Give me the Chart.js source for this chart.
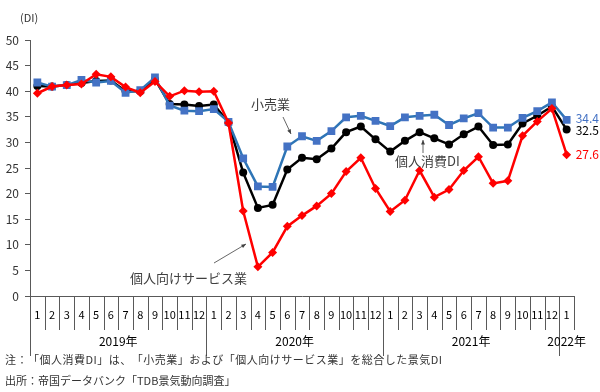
<!DOCTYPE html>
<html>
<head>
<meta charset="utf-8">
<script src="https://cdn.jsdelivr.net/npm/chart.js@4"></script>
<style>
  html, body { margin: 0; padding: 0; background: #fff; }
  #wrap { width: 600px; height: 392px; position: relative; }
  .note {
    position: absolute; left: 5px; margin: 0;
    font-family: "Noto Sans CJK JP", "Noto Sans", sans-serif;
    font-size: 11px; line-height: 14px; color: #333; white-space: nowrap;
    text-spacing-trim: space-all; font-kerning: none;
    font-feature-settings: "chws" 0, "halt" 0;
  }
</style>
</head>
<body>
<div id="wrap">
  <canvas id="diChart" width="600" height="392"></canvas>
  <p class="note" style="top:352px; letter-spacing:0.5px">注：「個人消費DI」は、「小売業」および「個人向けサービス業」を総合した景気DI</p>
  <p class="note" style="top:373px">出所：帝国データバンク「TDB景気動向調査」</p>
</div>
<script>
// Months Jan 2019 .. Jan 2022
const months = [1,2,3,4,5,6,7,8,9,10,11,12, 1,2,3,4,5,6,7,8,9,10,11,12, 1,2,3,4,5,6,7,8,9,10,11,12, 1];
const yearLabels = ["2019年", "2020年", "2021年", "2022年"];
const yearStarts = [0, 12, 24, 36];

// 小売業
const retail = [41.7, 40.9, 41.2, 42.2, 41.7, 42.0, 39.7, 40.2, 42.7, 37.2, 36.2, 36.1,
                36.5, 34.0, 26.9, 21.4, 21.3, 29.2, 31.2, 30.3, 32.2, 34.9, 35.2, 34.2,
                33.2, 34.9, 35.2, 35.4, 33.4, 34.7, 35.7, 32.9, 32.9, 34.8, 36.1, 37.8,
                34.4];
// 個人消費DI
const consumption = [41.0, 40.9, 41.2, 41.6, 42.0, 42.1, 40.0, 40.0, 42.3, 37.5, 37.4, 37.1,
                     37.4, 33.9, 24.1, 17.2, 17.8, 24.7, 27.0, 26.7, 28.8, 32.0, 33.1, 30.6,
                     28.2, 30.3, 32.0, 30.8, 29.6, 31.6, 33.1, 29.5, 29.6, 33.7, 35.2, 37.0,
                     32.5];
// 個人向けサービス業
const service = [39.6, 40.9, 41.2, 41.4, 43.3, 42.8, 40.8, 39.7, 41.9, 39.0, 40.1, 39.9,
                 40.0, 33.8, 16.6, 5.7, 8.5, 13.6, 15.7, 17.6, 20.0, 24.3, 27.0, 21.0,
                 16.5, 18.7, 24.5, 19.3, 20.8, 24.5, 27.2, 22.0, 22.5, 31.3, 34.1, 36.6,
                 27.6];

const JP = '"Noto Sans CJK JP", "Noto Sans", sans-serif';
const axisColor = '#595959';

// arrows, labels and separators
const extras = {
  id: 'extras',
  afterDraw(chart) {
    const ctx = chart.ctx;
    const x = chart.scales.x, y = chart.scales.y;
    const step = x.getPixelForValue(1) - x.getPixelForValue(0);
    const base = chart.chartArea.bottom;
    ctx.save();

    // month separators, longer at year boundaries
    ctx.strokeStyle = axisColor;
    ctx.lineWidth = 1;
    for (let i = 0; i <= months.length; i++) {
      const px = Math.round(x.getPixelForValue(i) - step / 2) + 0.5;
      const long = yearStarts.includes(i);
      ctx.beginPath();
      ctx.moveTo(px, base);
      ctx.lineTo(px, long ? 356 : 330);
      ctx.stroke();
    }

    // year labels
    ctx.fillStyle = '#000';
    ctx.font = '12px ' + JP;
    ctx.textAlign = 'center';
    ctx.textBaseline = 'middle';
    yearLabels.forEach((lab, k) => {
      const s = yearStarts[k];
      const e = k + 1 < yearStarts.length ? yearStarts[k + 1] - 1 : months.length - 1;
      const cx = (x.getPixelForValue(s) + x.getPixelForValue(e)) / 2;
      ctx.fillText(lab, cx, 341);
    });

    // (DI)
    ctx.font = '11px ' + JP;
    ctx.textAlign = 'left';
    ctx.fillStyle = '#333';
    ctx.fillText('(DI)', 20, 18);

    // series annotations
    function arrow(x1, y1, x2, y2) {
      ctx.strokeStyle = '#404040';
      ctx.fillStyle = '#404040';
      ctx.lineWidth = 0.8;
      ctx.beginPath();
      ctx.moveTo(x1, y1);
      ctx.lineTo(x2, y2);
      ctx.stroke();
      const a = Math.atan2(y2 - y1, x2 - x1);
      ctx.beginPath();
      ctx.moveTo(x2, y2);
      ctx.lineTo(x2 - 5 * Math.cos(a - 0.4), y2 - 5 * Math.sin(a - 0.4));
      ctx.lineTo(x2 - 5 * Math.cos(a + 0.4), y2 - 5 * Math.sin(a + 0.4));
      ctx.closePath();
      ctx.fill();
    }
    ctx.font = '13px ' + JP;
    ctx.fillStyle = '#404040';
    ctx.textBaseline = 'middle';
    ctx.fillText('小売業', 251, 104);
    arrow(283, 117, 291, 134);
    ctx.fillStyle = '#404040';
    ctx.fillText('個人消費DI', 395, 161);
    arrow(423, 153, 423, 140);
    ctx.fillStyle = '#404040';
    ctx.fillText('個人向けサービス業', 130, 278);
    arrow(214, 263, 246, 244);

    // end values
    const last = months.length - 1;
    const ex = x.getPixelForValue(last) + 9;
    ctx.font = '12px ' + JP;
    ctx.fillStyle = '#4472C4';
    ctx.fillText(retail[last].toFixed(1), ex, y.getPixelForValue(retail[last]) - 1);
    ctx.fillStyle = '#000';
    ctx.fillText(consumption[last].toFixed(1), ex, y.getPixelForValue(consumption[last]) + 1);
    ctx.fillStyle = '#FF0000';
    ctx.fillText(service[last].toFixed(1), ex, y.getPixelForValue(service[last]));
    ctx.restore();
  }
};

new Chart(document.getElementById('diChart').getContext('2d'), {
  type: 'line',
  data: {
    labels: months,
    datasets: [
      {
        label: '個人向けサービス業',
        data: service,
        borderColor: '#FF0000',
        backgroundColor: '#FF0000',
        borderWidth: 2.5,
        pointStyle: 'rectRot',
        pointRadius: 4.5,
        pointBorderWidth: 0,
        order: 1
      },
      {
        label: '小売業',
        data: retail,
        borderColor: '#2E75B6',
        backgroundColor: '#4472C4',
        borderWidth: 2.5,
        pointStyle: 'rect',
        pointRadius: 5.5,
        pointBorderWidth: 0,
        order: 2
      },
      {
        label: '個人消費DI',
        data: consumption,
        borderColor: '#000',
        backgroundColor: '#000',
        borderWidth: 2.5,
        pointStyle: 'circle',
        pointRadius: 4,
        pointBorderWidth: 0,
        order: 3
      }
    ]
  },
  options: {
    responsive: false,
    animation: false,
    layout: { padding: { top: 40, right: 26, left: 0, bottom: 0 } },
    plugins: {
      legend: { display: false },
      tooltip: { enabled: false }
    },
    elements: { line: { tension: 0 } },
    scales: {
      x: {
        offset: true,
        grid: { display: false, drawTicks: false },
        border: { display: true, color: axisColor, width: 1 },
        ticks: {
          autoSkip: false,
          maxRotation: 0,
          minRotation: 0,
          padding: 12,
          color: '#000',
          font: { family: JP, size: 11 }
        },
        afterFit(scale) { scale.height = 96; }
      },
      y: {
        min: 0,
        max: 50,
        ticks: {
          stepSize: 5,
          padding: 6,
          color: '#333',
          font: { family: JP, size: 12 }
        },
        grid: { drawOnChartArea: false, drawTicks: true, tickLength: 5, color: axisColor },
        border: { display: true, color: axisColor, width: 1 },
        afterFit(scale) { scale.width = 30; }
      }
    }
  },
  plugins: [extras]
});
</script>
</body>
</html>
